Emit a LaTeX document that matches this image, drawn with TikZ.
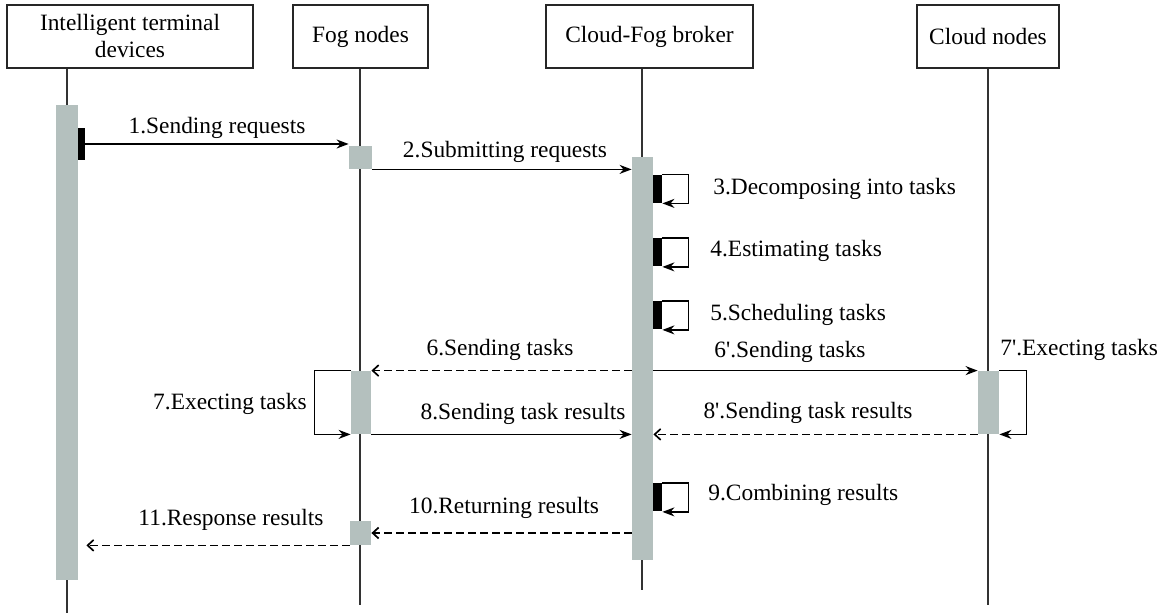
\documentclass[tikz,border=0pt]{standalone}
\usepackage{fontspec}
\setmainfont{Liberation Serif}
\usetikzlibrary{arrows.meta, positioning}
\definecolor{bargray}{RGB}{180,192,190}

\begin{document}
\begin{tikzpicture}[x=0.5pt, y=-0.5pt,
    font=\fontsize{11.7}{13.5}\selectfont,
    head/.style={draw=black!85, line width=1pt, align=center, inner sep=0pt, minimum height=31.5pt},
    life/.style={draw=black!80, line width=0.8pt},
    bar/.style={fill=bargray, inner sep=0pt},
    blk/.style={fill=black, inner sep=0pt, minimum width=4.5pt, minimum height=14pt},
    msg/.style={line width=0.85pt, -{Stealth[length=6pt, width=4.5pt]}},
    ret/.style={line width=0.85pt, dash pattern=on 4pt off 2pt, -{Straight Barb[length=3pt, width=5.5pt]}},
    lbl/.style={inner sep=0pt}]
    \useasboundingbox (0,0) rectangle (1165,613);

    % Participants
    \node[head, minimum width=123pt] (dev) at (130,36.5) {Intelligent terminal\\devices};
    \node[head, minimum width=67.5pt] (fog) at (360.5,36.5) {Fog nodes};
    \node[head, minimum width=103.5pt] (brk) at (649.5,36.5) {Cloud-Fog broker};
    \node[head, minimum width=71pt] (cld) at (988,36.5) {Cloud nodes};

    % Lifelines
    \coordinate (devend) at (67,613);
    \coordinate (fogend) at (360,605);
    \coordinate (brkend) at (642,590);
    \coordinate (cldend) at (988,605);
    \draw[life] (dev.south -| devend) -- (devend);
    \draw[life] (fog.south -| fogend) -- (fogend);
    \draw[life] (brk.south -| brkend) -- (brkend);
    \draw[life] (cld.south -| cldend) -- (cldend);

    % Activation bars
    \node[bar, minimum width=11pt, minimum height=237.5pt] (devbar) at (67,342.5) {};
    \node[bar, minimum width=11.5pt, minimum height=11.5pt] (fogA) at (360.5,157.5) {};
    \node[bar, minimum width=10.5pt, minimum height=201.5pt] (brkbar) at (642.5,358.5) {};
    \node[bar, minimum width=10pt, minimum height=31.5pt] (fogB) at (361,402.5) {};
    \node[bar, minimum width=10.5pt, minimum height=31.5pt] (cldbar) at (988.5,402.5) {};
    \node[bar, minimum width=10.5pt, minimum height=12pt] (fogC) at (360.5,533) {};

    % Requests
    \node[blk, minimum width=3.5pt, minimum height=16pt] (b1) at (81.5,144) {};
    \draw[msg] (b1.east) -- (b1.east -| fogA.west);
    \node[lbl] (l1) at (217,128) {1.Sending requests};
    \draw[msg] (fogA.south east) -- (fogA.south east -| brkbar.west);
    \node[lbl] (l2) at (505,152) {2.Submitting requests};

    % Broker self calls
    \node[blk] (b3) at (657.5,189) {};
    \draw[msg] (b3.north east) -- ++(26,0) |- (b3.south east);
    \node[lbl, anchor=west] (l3) at (713,189) {3.Decomposing into tasks};
    \node[blk] (b4) at (657.5,252.5) {};
    \draw[msg] (b4.north east) -- ++(26,0) |- (b4.south east);
    \node[lbl, anchor=west] (l4) at (710,251) {4.Estimating tasks};
    \node[blk] (b5) at (657.5,315.5) {};
    \draw[msg] (b5.north east) -- ++(26,0) |- (b5.south east);
    \node[lbl, anchor=west] (l5) at (710,315) {5.Scheduling tasks};

    % Sending tasks
    \draw[ret] (brkbar.west |- fogB.north) -- (fogB.north east);
    \node[lbl] (l6) at (500,350) {6.Sending tasks};
    \draw[msg] (brkbar.east |- cldbar.north) -- (cldbar.north west);
    \node[lbl] (l6p) at (790,352) {6\textquotesingle.Sending tasks};

    % Executing tasks
    \draw[msg] (fogB.north west) -- ++(-36,0) |- (fogB.south west);
    \node[lbl, anchor=east] (l7) at (307,404) {7.Execting tasks};
    \draw[msg] (cldbar.north east) -- ++(27,0) |- (cldbar.south east);
    \node[lbl, anchor=west] (l7p) at (1000,350) {7\textquotesingle.Execting tasks};

    % Task results
    \draw[msg] (fogB.south east) -- (fogB.south east -| brkbar.west);
    \node[lbl] (l8) at (523,414) {8.Sending task results};
    \draw[ret] (cldbar.south west) -- (cldbar.south west -| brkbar.east);
    \node[lbl] (l8p) at (808,413) {8\textquotesingle.Sending task results};

    % Combining and returning
    \node[blk] (b9) at (657.5,497.5) {};
    \draw[msg] (b9.north east) -- ++(26,0) |- (b9.south east);
    \node[lbl, anchor=west] (l9) at (708,495) {9.Combining results};
    \draw[ret] (brkbar.west |- fogC) -- (fogC.east);
    \node[lbl] (l10) at (504,508) {10.Returning results};
    \draw[ret, shorten >=4pt] (fogC.south west) -- (fogC.south west -| devbar.east);
    \node[lbl] (l11) at (231,520) {11.Response results};
\end{tikzpicture}
\end{document}
